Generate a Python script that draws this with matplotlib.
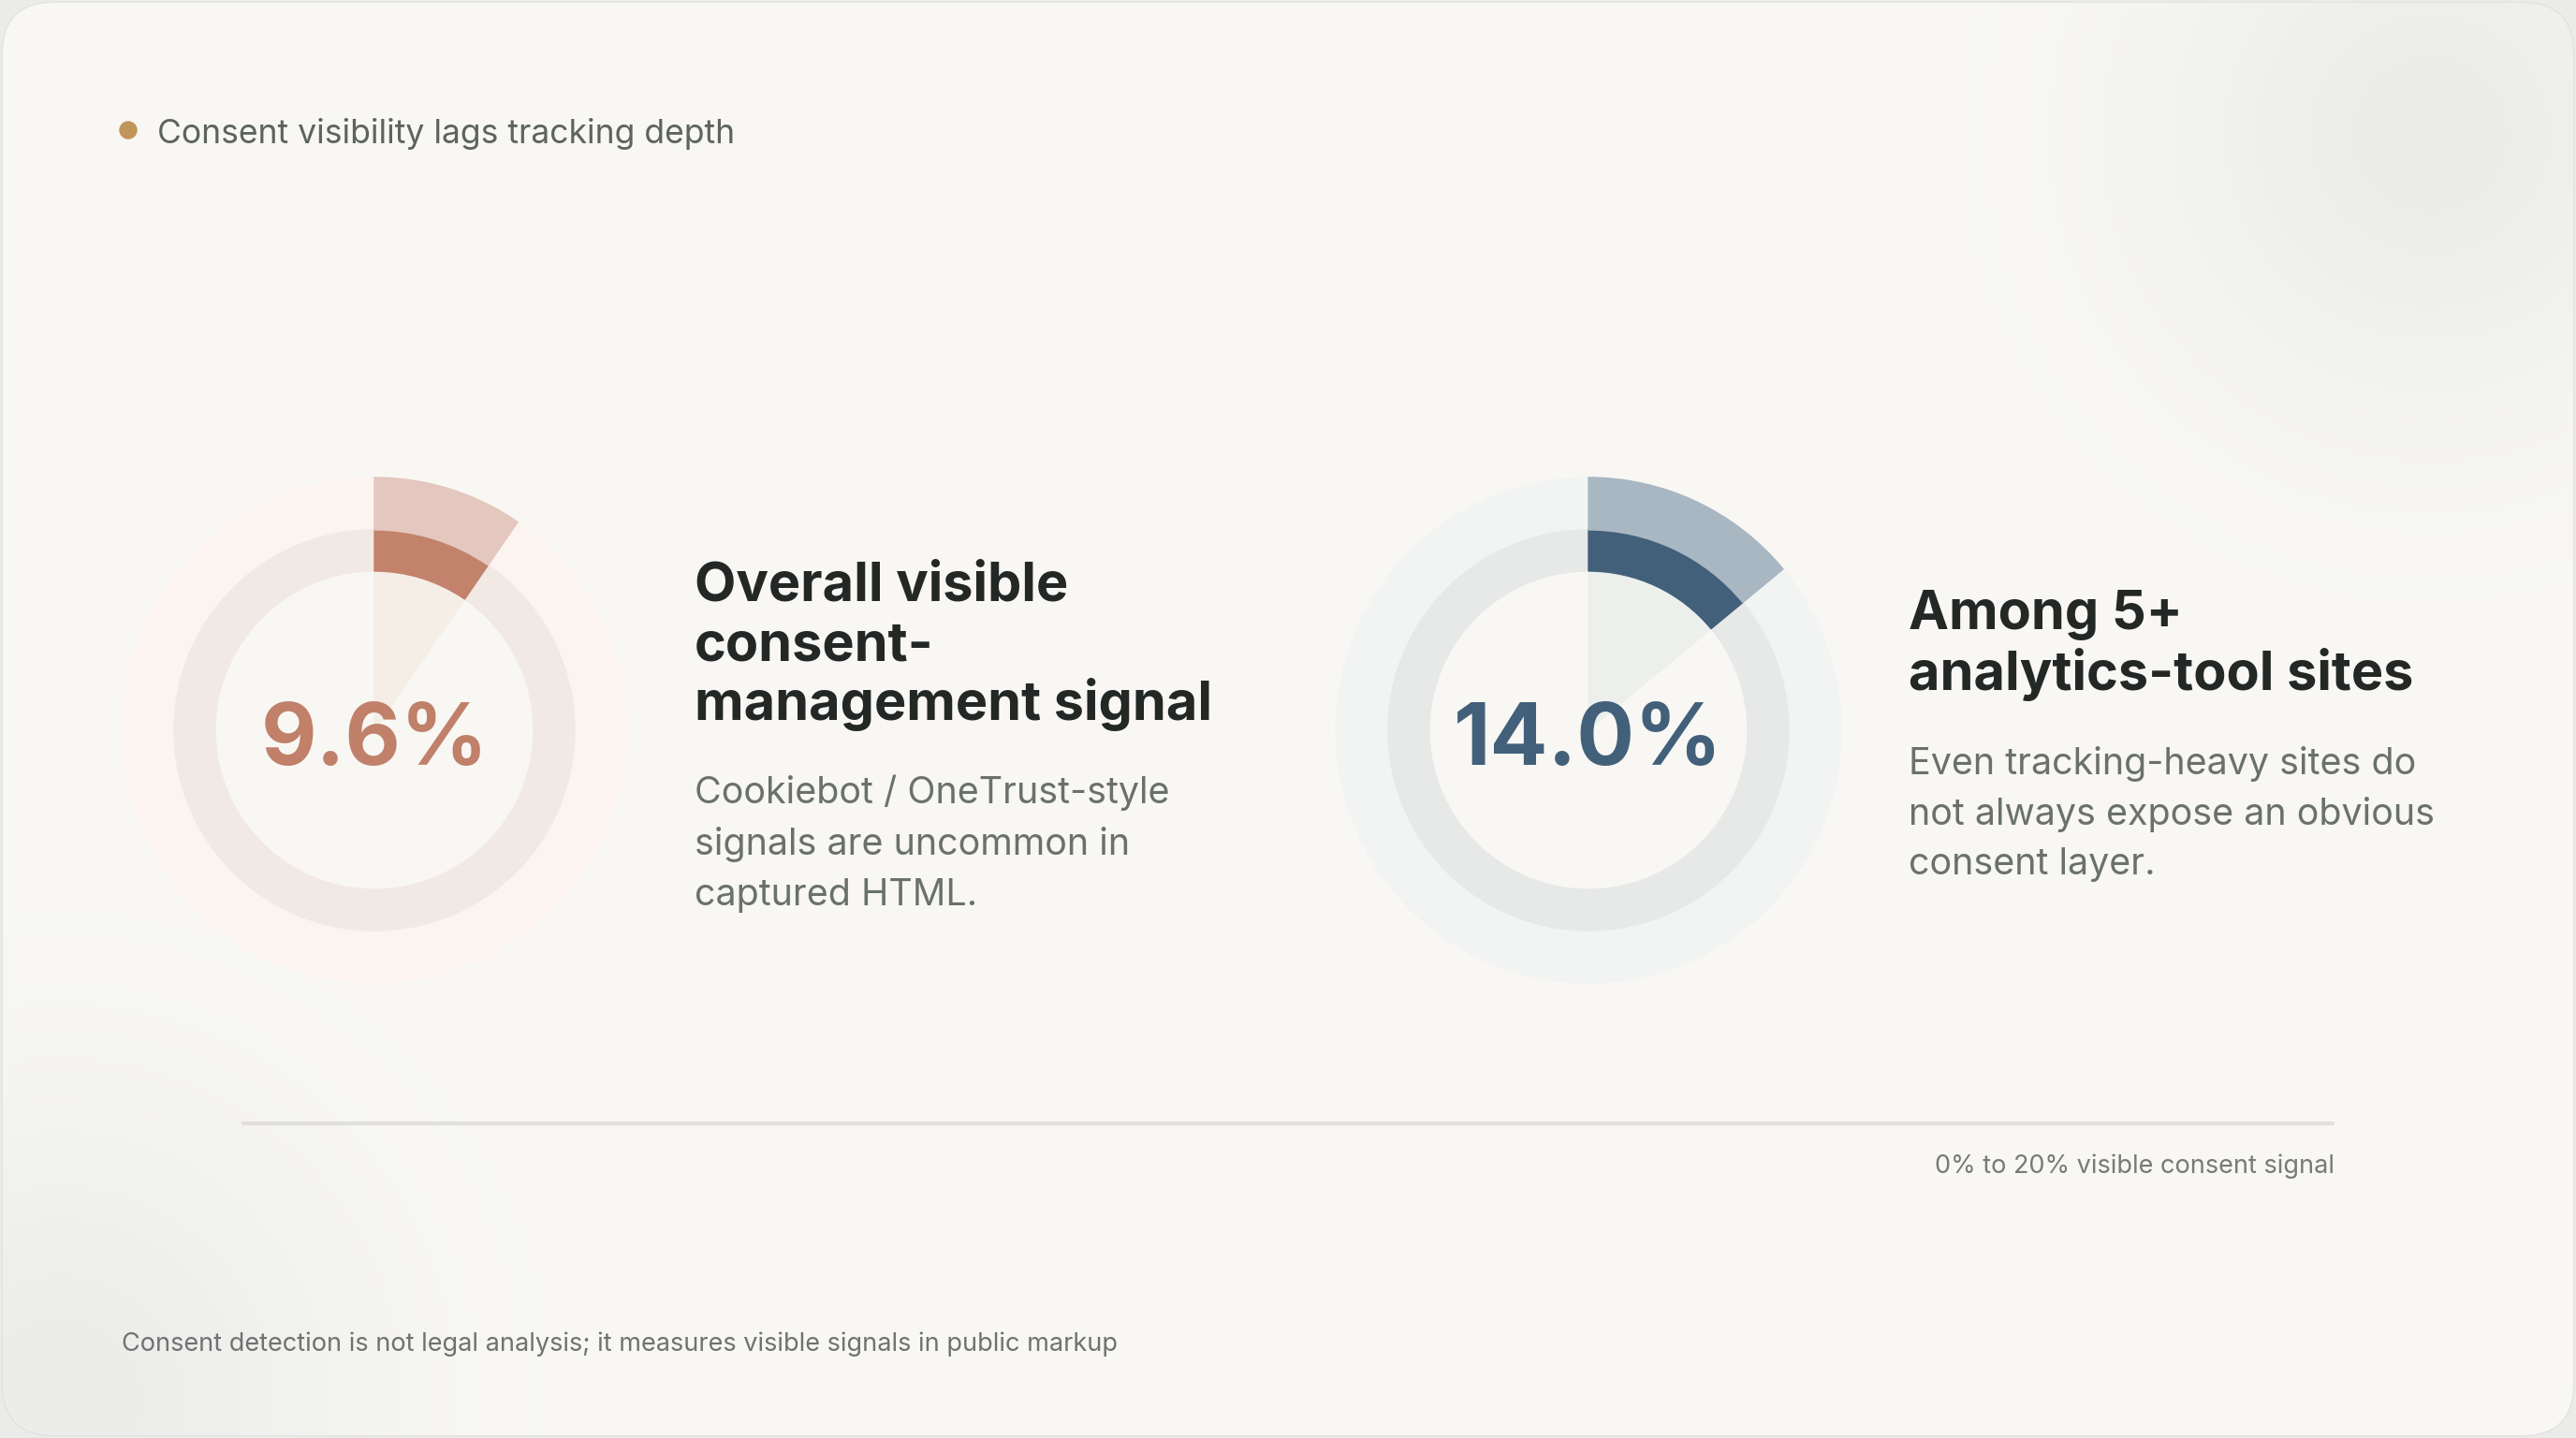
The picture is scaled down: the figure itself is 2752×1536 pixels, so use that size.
import numpy as np
import matplotlib.pyplot as plt
from matplotlib.patches import Wedge, Circle, FancyBboxPatch

# data
values = [9.6, 14.0]
value_labels = ["9.6%", "14.0%"]
headings = [["Overall visible", "consent-", "management signal"],
            ["Among 5+", "analytics-tool sites"]]
bodies = [["Cookiebot / OneTrust-style", "signals are uncommon in", "captured HTML."],
          ["Even tracking-heavy sites do", "not always expose an obvious", "consent layer."]]
title = "Consent visibility lags tracking depth"
scale_label = "0% to 20% visible consent signal"
footnote = "Consent detection is not legal analysis; it measures visible signals in public markup"

# colours per ring: dark arc, light arc, track, halo, inner wedge
ring_colors = [
    dict(dark="#c2826b", light="#e4c7be", track="#f1e9e4", halo="#fcf4f1", wedge="#f5eee7", text="#c0806a"),
    dict(dark="#42607a", light="#a9b7c2", track="#e7e8e8", halo="#f2f4f4", wedge="#ecefec", text="#42607a"),
]

W, H = 2752, 1536
plt.rcParams['font.family'] = ['Inter', 'DejaVu Sans']

fig = plt.figure(figsize=(W / 100, H / 100), dpi=100)
fig.patch.set_facecolor("#ebebea")
ax = fig.add_axes([0, 0, 1, 1])
ax.set_xlim(0, W)
ax.set_ylim(H, 0)
ax.axis("off")

# card background with soft gradient blobs
card = FancyBboxPatch((3, 3), W - 6, H - 6, boxstyle="round,pad=0,rounding_size=55",
                      facecolor="#f9f7f3", edgecolor="#e2e2e0", linewidth=2, zorder=0)
ax.add_patch(card)
gx, gy = np.meshgrid(np.linspace(0, W, 344), np.linspace(0, H, 192))
base = np.array([249, 248, 244]) / 255
grey = np.array([236, 237, 235]) / 255
w1 = np.exp(-(((gx - 2600) ** 2 + (gy - 140) ** 2) / (2 * 220 ** 2)))
w2 = np.exp(-(((gx - 60) ** 2 + (gy - 1500) ** 2) / (2 * 230 ** 2)))
wt = np.clip(w1 + w2, 0, 1)[..., None]
img = base * (1 - wt) + grey * wt
im = ax.imshow(img, extent=(0, W, H, 0), interpolation="bilinear", zorder=0.5)
im.set_clip_path(card)

centers = [(400, 780), (1697, 780)]
text_x = [742, 2039]
head_base = [[641, 705, 769], [672, 737]]
body_base = [[858, 913, 967], [827, 881, 934]]

r_halo, r_out, r_in = 270, 214, 170
for i, v in enumerate(values):
    c = ring_colors[i]
    cx, cy = centers[i]
    sweep = v / 100 * 360
    ax.add_patch(Wedge((cx, cy), r_halo, 0, 360, width=r_halo - r_out, color=c["halo"], zorder=1))
    ax.add_patch(Wedge((cx, cy), r_out, 0, 360, width=r_out - r_in, color=c["track"], zorder=1))
    ax.add_patch(Wedge((cx, cy), r_in, -90, -90 + sweep, color=c["wedge"], zorder=1))
    ax.add_patch(Wedge((cx, cy), r_out, -90, -90 + sweep, width=r_out - r_in, color=c["dark"], zorder=2))
    ax.add_patch(Wedge((cx, cy), r_halo, -90, -90 + sweep, width=r_halo - r_out, color=c["light"], zorder=2))
    ax.text(cx, 817, value_labels[i], ha="center", va="baseline", fontsize=66,
            fontweight="bold", color=c["text"], zorder=3)
    for line, yb in zip(headings[i], head_base[i]):
        ax.text(text_x[i], yb, line, ha="left", va="baseline", fontsize=41.5,
                fontweight="bold", color="#232826", zorder=3)
    for line, yb in zip(bodies[i], body_base[i]):
        ax.text(text_x[i], yb, line, ha="left", va="baseline", fontsize=28.4,
                color="#6a716c", zorder=3)

# title with dot
ax.add_patch(Circle((137, 139), 9, color="#c0955a", zorder=3))
ax.text(168, 153, title, ha="left", va="baseline", fontsize=25.6, color="#5d645f", zorder=3)

# scale line and label
ax.plot([258, 2494], [1200, 1200], color="#e1dfdb", linewidth=3, solid_capstyle="butt", zorder=2)
ax.text(2494, 1253, scale_label, ha="right", va="baseline", fontsize=19.5, color="#777a78", zorder=3)

ax.text(130, 1443, footnote, ha="left", va="baseline", fontsize=19.5, color="#6f7270", zorder=3)

fig.savefig("out.png", dpi=100, facecolor=fig.get_facecolor())
